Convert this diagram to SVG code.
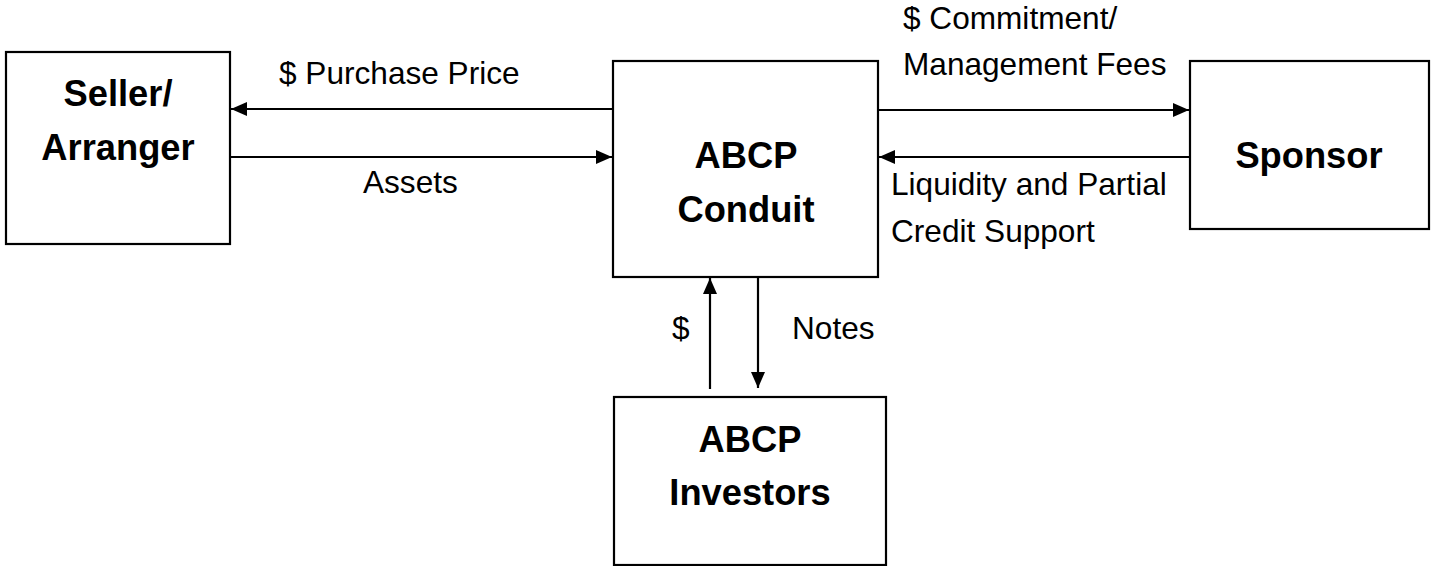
<svg xmlns="http://www.w3.org/2000/svg" width="1431" height="566" viewBox="0 0 1431 566">
  <style>
    .box { fill: #ffffff; stroke: #000000; stroke-width: 2.2; }
    .title { font-family: "Liberation Sans", Arial, sans-serif; font-weight: bold; font-size: 36.3px; fill: #000000; text-anchor: middle; }
    .label { font-family: "Liberation Sans", Arial, sans-serif; font-size: 31.6px; fill: #000000; }
    .flow { stroke: #000000; stroke-width: 2.2; fill: none; marker-end: url(#head); }
  </style>
  <defs>
    <marker id="head" viewBox="0 0 16 14" refX="16" refY="7" markerWidth="16" markerHeight="14" markerUnits="userSpaceOnUse" orient="auto">
      <path d="M0,0 L16,7 L0,14 Z" fill="#000000"/>
    </marker>
  </defs>
  <rect width="1431" height="566" fill="#ffffff"/>

  <g id="seller">
    <rect class="box" x="6" y="52" width="224" height="192"/>
    <text class="title" x="118" y="106">Seller/</text>
    <text class="title" x="118" y="160">Arranger</text>
  </g>

  <g id="conduit">
    <rect class="box" x="613" y="61" width="265" height="216"/>
    <text class="title" x="746" y="168">ABCP</text>
    <text class="title" x="746" y="222">Conduit</text>
  </g>

  <g id="sponsor">
    <rect class="box" x="1190" y="61" width="239" height="168"/>
    <text class="title" x="1309" y="168">Sponsor</text>
  </g>

  <g id="investors">
    <rect class="box" x="614" y="397" width="272" height="168"/>
    <text class="title" x="750" y="452">ABCP</text>
    <text class="title" x="750" y="505">Investors</text>
  </g>

  <g id="connectors">
    <line class="flow" x1="613" y1="109" x2="231" y2="109"/>
    <line class="flow" x1="230" y1="157" x2="612" y2="157"/>
    <line class="flow" x1="878" y1="110" x2="1189" y2="110"/>
    <line class="flow" x1="1190" y1="157" x2="879" y2="157"/>
    <line class="flow" x1="710" y1="389" x2="710" y2="278"/>
    <line class="flow" x1="758" y1="277" x2="758" y2="388"/>
  </g>

  <g id="labels">
    <text class="label" x="279" y="84">$ Purchase Price</text>
    <text class="label" x="363" y="193">Assets</text>
    <text class="label" x="903" y="29">$ Commitment/</text>
    <text class="label" x="903" y="75">Management Fees</text>
    <text class="label" x="891" y="195">Liquidity and Partial</text>
    <text class="label" x="891" y="242">Credit Support</text>
    <text class="label" x="672" y="339">$</text>
    <text class="label" x="792" y="339">Notes</text>
  </g>
</svg>
